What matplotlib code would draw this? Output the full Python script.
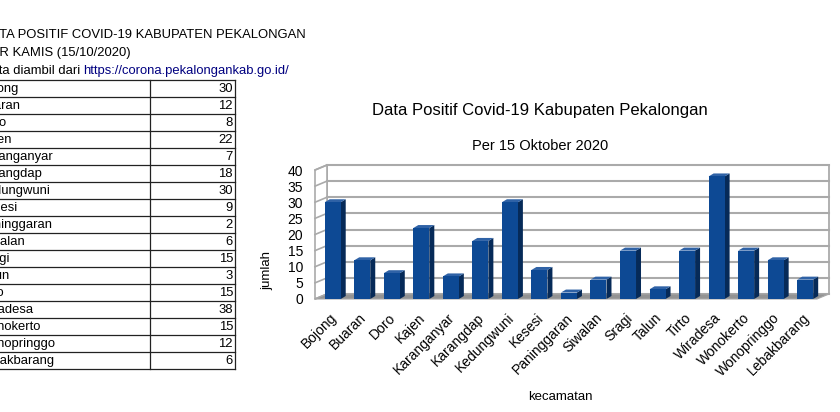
import numpy as np
import matplotlib
matplotlib.use("Agg")
import matplotlib.pyplot as plt
import matplotlib.transforms as mtransforms
from matplotlib.patches import Polygon, Rectangle

plt.rcParams["font.family"] = ["Liberation Sans", "DejaVu Sans"]

# ===================== data =====================
kecamatan = ["Bojong", "Buaran", "Doro", "Kajen", "Karanganyar", "Karangdap",
             "Kedungwuni", "Kesesi", "Paninggaran", "Siwalan", "Sragi", "Talun",
             "Tirto", "Wiradesa", "Wonokerto", "Wonopringgo", "Lebakbarang"]
jumlah = [30, 12, 8, 22, 7, 18, 30, 9, 2, 6, 15, 3, 15, 38, 15, 12, 6]

header = ["DATA POSITIF COVID-19 KABUPATEN PEKALONGAN", "PER KAMIS (15/10/2020)"]
source_text = "Data diambil dari "
source_link = "https://corona.pekalongankab.go.id/"

chart_title = "Data Positif Covid-19 Kabupaten Pekalongan"
chart_subtitle = "Per 15 Oktober 2020"
y_ticks = [0, 5, 10, 15, 20, 25, 30, 35, 40]

# ===================== figure =====================
W, H = 840, 412
fig = plt.figure(figsize=(W / 100, H / 100), dpi=100)
fig.patch.set_facecolor("white")

# ---------- spreadsheet part (pixel coords) ----------
sheet = fig.add_axes([0, 0, 1, 1])
sheet.set_xlim(0, W)
sheet.set_ylim(H, 0)
sheet.axis("off")

fs_sheet = 9.4
txt_x = -18.5
sheet.text(txt_x, 35, header[0], fontsize=fs_sheet, va="center", ha="left")
sheet.text(txt_x, 52.5, header[1], fontsize=fs_sheet, va="center", ha="left")
t = sheet.text(txt_x, 70.5, source_text, fontsize=fs_sheet, va="center", ha="left")
fig.canvas.draw()
bb = t.get_window_extent()
x_link = sheet.transData.inverted().transform((bb.x1, 0))[0]
sheet.text(x_link, 70.5, source_link, fontsize=fs_sheet, va="center", ha="left", color="#000080")

row_top, row_h = 80, 17
col_div, col_right = 150, 235
n = len(kecamatan)
for k in range(n + 1):
    sheet.plot([0, col_right], [row_top + k * row_h] * 2, color="#222222", lw=0.9)
for xv in (col_div, col_right):
    sheet.plot([xv, xv], [row_top, row_top + n * row_h], color="#222222", lw=0.9)
for i, (name, val) in enumerate(zip(kecamatan, jumlah)):
    yc = row_top + (i + 0.5) * row_h
    sheet.text(-21, yc + 0.5, name, fontsize=fs_sheet, va="center", ha="left")
    sheet.text(col_right - 2, yc + 0.5, str(val), fontsize=fs_sheet, va="center", ha="right")

# ---------- chart ----------
ax = fig.add_axes([315 / W, (H - 299) / H, 502 / W, 129 / H])
ax.set_xlim(-0.6, 16.4)
ax.set_ylim(0, 40)
for s in ax.spines.values():
    s.set_visible(False)
ax.patch.set_alpha(0)

# depth offsets in data units (px / scale)
sx = 502 / 17.0
sy = 129 / 40.0
wall_dx, wall_dy = 12 / sx, 5 / sy
bar_dx, bar_dy = 5 / sx, 3 / sy
x0, x1 = -0.6, 16.4
grid_c = "#aaaaaa"

# back wall
ax.add_patch(Rectangle((x0 + wall_dx, wall_dy), x1 - x0, 40, facecolor="white",
                       edgecolor=grid_c, lw=1.3, clip_on=False, zorder=1))
for v in y_ticks:
    ax.plot([x0 + wall_dx, x1 + wall_dx], [v + wall_dy] * 2, color=grid_c, lw=1.5,
            clip_on=False, zorder=1.1)
# left wall
ax.add_patch(Polygon([(x0, 0), (x0, 40), (x0 + wall_dx, 40 + wall_dy), (x0 + wall_dx, wall_dy)],
                     closed=True, facecolor="white", edgecolor=grid_c, lw=1.2,
                     clip_on=False, zorder=1.05))
for v in y_ticks:
    ax.plot([x0, x0 + wall_dx], [v, v + wall_dy], color=grid_c, lw=1.2,
            clip_on=False, zorder=1.1)
# floor
ax.add_patch(Polygon([(x0, 0), (x1, 0), (x1 + wall_dx, wall_dy), (x0 + wall_dx, wall_dy)],
                     closed=True, facecolor="#939393", edgecolor="#a8a8a8", lw=0.8,
                     clip_on=False, zorder=1.2))

# bars
bw = 16 / sx
for i, v in enumerate(jumlah):
    l, r = i - bw / 2, i + bw / 2
    ax.add_patch(Polygon([(r, 0), (r, v), (r + bar_dx, v + bar_dy), (r + bar_dx, bar_dy)],
                         closed=True, facecolor="#062a58", edgecolor="none",
                         clip_on=False, zorder=3))
    ax.add_patch(Polygon([(l, v), (r, v), (r + bar_dx, v + bar_dy), (l + bar_dx, v + bar_dy)],
                         closed=True, facecolor="#2f62a6", edgecolor="none",
                         clip_on=False, zorder=3))
    ax.add_patch(Rectangle((l, 0), bw, v, facecolor="#0d4994", edgecolor="none",
                           clip_on=False, zorder=3.1))

ax.set_yticks(y_ticks)
ax.set_yticklabels([str(v) for v in y_ticks], fontsize=10)
ax.set_xticks(range(n))
ax.set_xticklabels(kecamatan, rotation=45, ha="right", rotation_mode="anchor", fontsize=10)
ax.tick_params(axis="y", length=0, pad=8.6)
ax.tick_params(axis="x", length=0, pad=8.5)
shift = mtransforms.ScaledTranslation(-3 / 100, 0, fig.dpi_scale_trans)
for lab in ax.get_xticklabels():
    lab.set_transform(lab.get_transform() + shift)

fig.text(540 / W, 1 - 111 / H, chart_title, fontsize=12, ha="center", va="center")
fig.text(540 / W, 1 - 146 / H, chart_subtitle, fontsize=10.5, ha="center", va="center")
fig.text(267 / W, 1 - 271 / H, "jumlah", fontsize=9.5, ha="center", va="center", rotation=90)
fig.text(560 / W, 1 - 397 / H, "kecamatan", fontsize=9.5, ha="center", va="center")

fig.savefig("out.png", dpi=100)
